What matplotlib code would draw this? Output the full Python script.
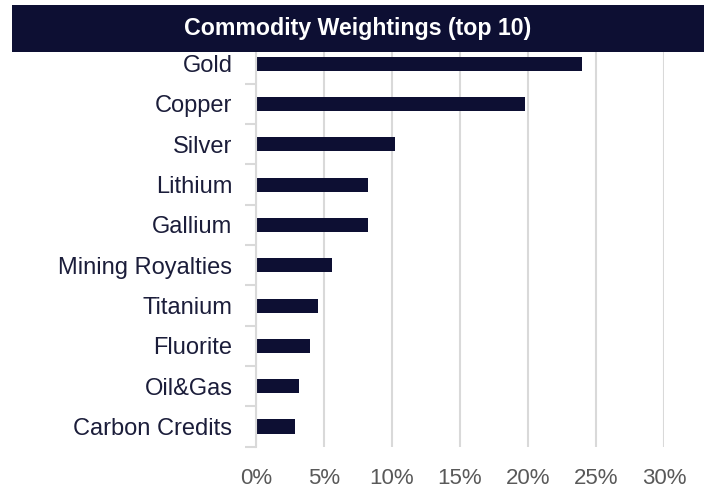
import matplotlib
matplotlib.use("Agg")
import matplotlib.pyplot as plt
from matplotlib.patches import Rectangle
from matplotlib.ticker import FixedLocator

categories = ["Gold", "Copper", "Silver", "Lithium", "Gallium",
              "Mining Royalties", "Titanium", "Fluorite", "Oil&Gas", "Carbon Credits"]
weights = [24.0, 19.8, 10.2, 8.25, 8.2, 5.6, 4.55, 4.0, 3.15, 2.87]
xticks = [0, 5, 10, 15, 20, 25, 30]
xtick_labels = ["0%", "5%", "10%", "15%", "20%", "25%", "30%"]
title = "Commodity Weightings (top 10)"

navy = "#0d0f33"
grid_c = "#d9d9d9"

plt.rcParams['font.family'] = ['Liberation Sans', 'DejaVu Sans']

fig = plt.figure(figsize=(7.08, 4.87), dpi=100)
ax = fig.add_axes([256/708, 1-446.7/487, (664-256)/708, (446.7-43.5)/487])

ypos = list(range(len(categories)))
ax.barh(ypos, weights, height=0.35, color=navy, zorder=3)
ax.set_ylim(len(categories)-0.5, -0.5)
ax.set_xlim(0, 30)

ax.set_xticks(xticks)
ax.set_xticklabels(xtick_labels, fontsize=16, color="#595959")
ax.set_yticks(ypos)
ax.set_yticklabels(categories, fontsize=17, color="#1b1d3a")
ax.yaxis.set_minor_locator(FixedLocator([k + 0.5 for k in range(-1, len(categories))]))
ax.tick_params(axis='y', which='major', length=0, pad=17)
ax.tick_params(axis='y', which='minor', length=8, width=1.5, color=grid_c)
ax.tick_params(axis='x', which='major', length=0, pad=15)

ax.grid(axis='x', color=grid_c, linewidth=1.5, zorder=0)
for s in ["top", "right", "bottom"]:
    ax.spines[s].set_visible(False)
ax.spines["left"].set_color(grid_c)
ax.spines["left"].set_linewidth(1.5)
ax.spines["left"].set_zorder(4)

bar = Rectangle((12/708, 1-51.7/487), 692/708, 46.7/487, transform=fig.transFigure,
                facecolor=navy, edgecolor="none", zorder=10)
fig.patches.append(bar)
fig.text((12+704)/2/708, 1-28.3/487, title, ha="center", va="center",
         fontsize=16.7, fontweight="bold", color="white", zorder=11)

fig.savefig("out.png", dpi=100)
